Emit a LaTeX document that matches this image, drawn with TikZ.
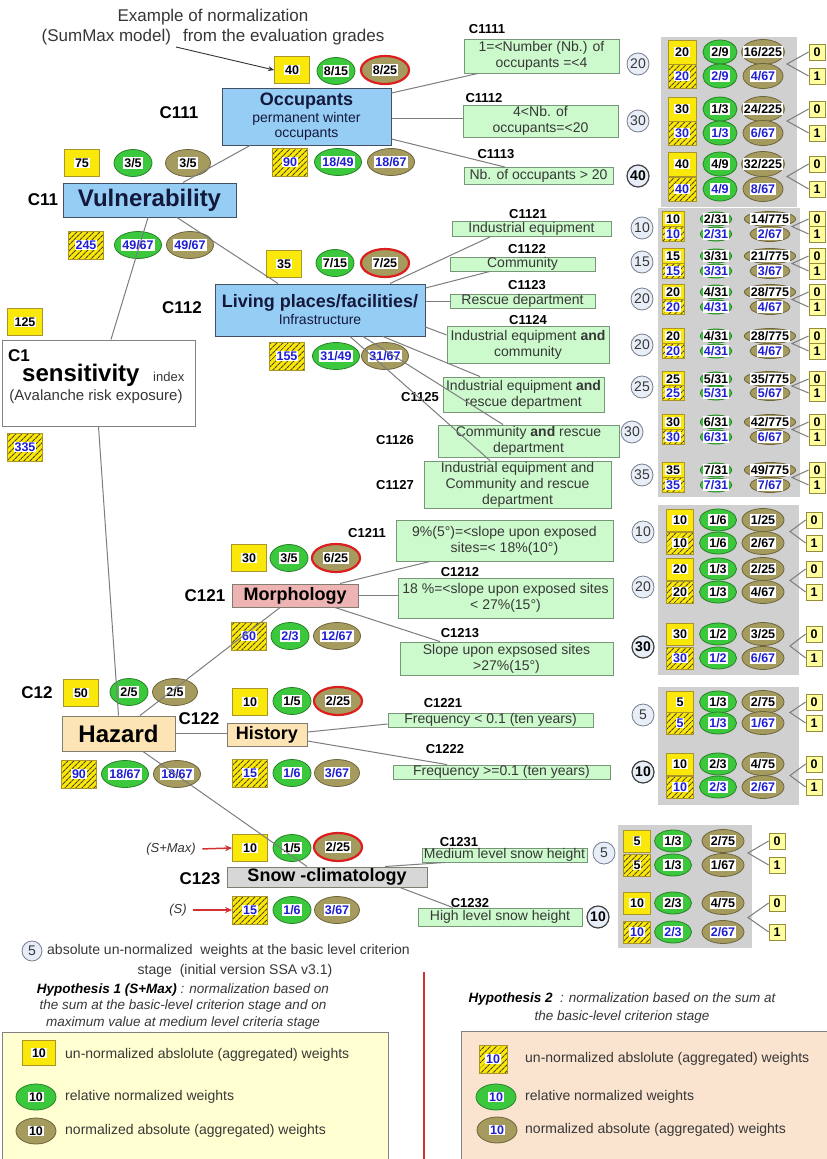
\documentclass[tikz,border=0pt]{standalone}
\usepackage{fontspec}
\setmainfont{Liberation Sans}
\usetikzlibrary{shapes.geometric,patterns.meta,arrows.meta}
\setlength{\fboxsep}{1pt}
\definecolor{Yel}{RGB}{250,232,10}
\definecolor{YelD}{RGB}{170,150,40}
\definecolor{Grn}{RGB}{60,200,60}
\definecolor{GrnD}{RGB}{40,130,40}
\definecolor{Olv}{RGB}{165,155,95}
\definecolor{OlvD}{RGB}{110,100,60}
\definecolor{RedB}{RGB}{220,30,30}
\definecolor{HatchC}{RGB}{80,70,20}
\definecolor{NumBlue}{RGB}{30,30,210}
\definecolor{BoxBlue}{RGB}{150,205,245}
\definecolor{BoxD}{RGB}{70,80,100}
\definecolor{Navy}{RGB}{20,25,60}
\definecolor{CritG}{RGB}{205,250,205}
\definecolor{CritD}{RGB}{120,150,120}
\definecolor{CircF}{RGB}{232,238,248}
\definecolor{CircD}{RGB}{120,125,140}
\definecolor{TabG}{RGB}{208,208,208}
\definecolor{PinkB}{RGB}{238,180,180}
\definecolor{HazC}{RGB}{252,228,180}
\definecolor{HazD}{RGB}{130,125,115}
\definecolor{SnowG}{RGB}{215,215,215}
\definecolor{ZYel}{RGB}{255,255,160}
\definecolor{ZYelD}{RGB}{150,140,60}
\definecolor{LegA}{RGB}{255,255,210}
\definecolor{LegB}{RGB}{250,228,208}
\definecolor{LegD}{RGB}{130,130,130}
\definecolor{TextG}{RGB}{55,55,55}
\definecolor{LineG}{RGB}{125,125,125}
\definecolor{RedL}{RGB}{210,50,50}
\newcommand\fsz[2]{\fontsize{#1}{#2}\selectfont}
\newcommand\wb[1]{\colorbox{white}{#1}}
\newcommand\bnum[1]{\textcolor{NumBlue}{#1}}
\tikzset{
 ln/.style={draw=LineG, line width=1pt},
 num/.style={font=\fsz{12.5}{14}\bfseries, inner sep=0pt, text=black},
 yb/.style={num, rectangle, fill=Yel, draw=YelD, line width=0.8pt},
 hb/.style={num, rectangle, draw=YelD, line width=0.8pt, preaction={fill=Yel}, pattern={Lines[angle=45,distance=4pt,line width=1.1pt]}, pattern color=HatchC},
 ge/.style={num, ellipse, fill=Grn, draw=GrnD, line width=0.8pt},
 oe/.style={num, ellipse, fill=Olv, draw=OlvD, line width=0.8pt},
 re/.style={oe, draw=RedB, line width=2.2pt},
 ybM/.style={yb, minimum width=35pt, minimum height=27pt},
 hbM/.style={hb, minimum width=35pt, minimum height=28pt},
 geM/.style={ge, minimum width=38pt, minimum height=27pt},
 oeM/.style={oe, minimum width=45pt, minimum height=27pt},
 reM/.style={re, minimum width=48pt, minimum height=28pt},
 ybA/.style={yb, minimum width=28pt, minimum height=24pt},
 hbA/.style={hb, minimum width=28pt, minimum height=24pt},
 geA/.style={ge, minimum width=34pt, minimum height=24pt},
 oeA/.style={oe, inner xsep=-5pt, inner ysep=-2pt, minimum width=40pt, minimum height=25pt},
 ybS/.style={yb, minimum width=22pt, minimum height=15pt},
 hbS/.style={hb, minimum width=22pt, minimum height=15pt},
 geS/.style={ge, inner xsep=-2pt, inner ysep=-3pt, minimum width=28pt, minimum height=14pt},
 oeS/.style={oe, inner xsep=-2pt, inner ysep=-3pt, minimum width=40pt, minimum height=15pt},
 ybB/.style={yb, minimum width=27pt, minimum height=22pt},
 hbB/.style={hb, minimum width=27pt, minimum height=22pt},
 geB/.style={ge, minimum width=37pt, minimum height=22pt},
 oeB/.style={oe, inner ysep=-2pt, minimum width=42pt, minimum height=23pt},
 ybL/.style={yb, minimum width=33pt, minimum height=25pt},
 hbL/.style={hb, minimum width=28pt, minimum height=28pt},
 geL/.style={ge, minimum width=40pt, minimum height=26pt},
 oeL/.style={oe, minimum width=40pt, minimum height=26pt},
 zb/.style={rectangle, fill=ZYel, draw=ZYelD, line width=0.8pt, font=\fsz{12.5}{14}\bfseries, minimum width=16pt, minimum height=16pt, inner sep=0pt},
 wc/.style={circle, fill=CircF, draw=CircD, line width=0.8pt, font=\fsz{14}{16}, text=TextG, minimum size=22pt, inner sep=0pt},
 wcb/.style={wc, draw=black!75, line width=1.2pt, font=\fsz{14}{16}\bfseries, text=black},
 bbox/.style={rectangle, fill=BoxBlue, draw=BoxD, line width=1pt, text=Navy, align=center, inner sep=0pt},
 hazbox/.style={rectangle, fill=HazC, draw=HazD, line width=1pt, text=black, inner sep=0pt},
 mbox/.style={rectangle, draw=HazD, line width=1pt, text=black, inner sep=0pt},
 crit/.style={rectangle, fill=CritG, draw=CritD, line width=0.9pt, font=\fsz{14}{16}, text=TextG, align=center, inner sep=0pt},
 lab17/.style={font=\fsz{17}{19}\bfseries, text=black, inner sep=0pt},
 lab13/.style={font=\fsz{13}{15}\bfseries, text=black, inner sep=0pt},
 lt/.style={font=\fsz{14}{16}, text=TextG, anchor=west, inner sep=0pt},
 redarr/.style={draw=RedL, line width=1.5pt, -{Stealth[length=7pt,width=6pt]}, shorten <=3pt},
}
\newcommand\tpair[9]{%
 \node[yb#2] (#1ya) at (\TXa,#3) {\wb{#5}};
 \node[ge#2] (#1ga) at (\TXb,#3) {\wb{#6}};
 \node[oe#2] (#1oa) at (\TXc,#3) {\wb{#7}};
 \node[hb#2] (#1yb) at (\TXa,#4) {\wb{\textcolor{#9}{#5}}};
 \node[ge#2] (#1gb) at (\TXb,#4) {\wb{\textcolor{#9}{#6}}};
 \node[oe#2] (#1ob) at (\TXc,#4) {\wb{\textcolor{#9}{#8}}};
 \node[zb] (#1z) at (\TXd,#3) {0};
 \node[zb] (#1u) at (\TXd,#4) {1};
 \coordinate (#1br) at (\TXe,{(#3+#4)/2});
 \draw[ln] (#1z.west) -- (#1br) -- (#1u.west);
}
\begin{document}
\begin{tikzpicture}[x=1pt,y=-1pt]
\useasboundingbox (0,0) rectangle (827,1159);
\fill[white] (0,0) rectangle (827,1159);
% gray panels
\fill[TabG] (661,37) rectangle (797,207);
\fill[TabG] (658,208) rectangle (800,497);
\fill[TabG] (658,505) rectangle (799,675);
\fill[TabG] (658,687) rectangle (799,805);
\fill[TabG] (618,825) rectangle (752,948);
% legend boxes
\node[draw=LegD, fill=LegA, line width=1pt, anchor=north west, minimum width=386pt, minimum height=140pt, inner sep=0pt] (leg1) at (2,1032) {};
\node[draw=LegD, fill=LegB, line width=1pt, anchor=north west, minimum width=380pt, minimum height=140pt, inner sep=0pt] (leg2) at (461,1031) {};
\draw[draw=RedL, line width=1.5pt] (424,972) -- (424,1159);

% title
\node[font=\fsz{17}{20}, text=TextG] (ttl1) at (213,17) {Example of normalization};
\node[font=\fsz{17}{20}, text=TextG] (ttl2) at (213,37) {(SumMax model)\hspace{12pt}from the evaluation grades};
\coordinate (arrs) at (176,47);

% Occupants
\node[ybM] (y40) at (292,70) {\wb{40}};
\node[geM] (g815) at (336,71) {\wb{8/15}};
\node[reM] (r825) at (385,70) {\wb{8/25}};
\node[bbox, minimum width=169pt, minimum height=57pt, font=\fsz{14}{15}] (occ) at (306.5,116.5) {{\fsz{18}{20}\bfseries Occupants}\\[2pt]permanent winter\\occupants};
\node[lab17] (l111) at (179,113) {C111};
\node[hbM] (h90a) at (290,162) {\wb{\bnum{90}}};
\node[geM] (g1849) at (338,162) {\wb{\bnum{18/49}}};
\node[oeM] (o1867a) at (391,162) {\wb{\bnum{18/67}}};

% Vulnerability
\node[ybM] (y75) at (82,163) {\wb{75}};
\node[geM] (g35a) at (133,163) {\wb{3/5}};
\node[oeM] (o35a) at (188,163) {\wb{3/5}};
\node[bbox, minimum width=173pt, minimum height=34pt, font=\fsz{24}{26}\bfseries] (vul) at (149.5,200) {Vulnerability};
\node[lab17] (l11) at (43,200) {C11};
\node[hbM] (h245) at (86,245) {\wb{\bnum{245}}};
\node[geM] (g4967) at (138,245) {\wb{\bnum{49/67}}};
\node[oeM] (o4967) at (190,245) {\wb{\bnum{49/67}}};

% Living places
\node[ybM] (y35) at (284,264) {\wb{35}};
\node[geM] (g715) at (335,263) {\wb{7/15}};
\node[reM] (r725) at (385,263) {\wb{7/25}};
\node[bbox, minimum width=210pt, minimum height=52pt, font=\fsz{14}{16}] (liv) at (320,310) {{\fsz{18}{20}\bfseries Living places/facilities/}\\[1pt]Infrastructure};
\node[lab17] (l112) at (182,308) {C112};
\node[hbM] (h155) at (287,356) {\wb{\bnum{155}}};
\node[geM] (g3149) at (336,356) {\wb{\bnum{31/49}}};
\node[oeM] (o3167) at (385,356) {\wb{\bnum{31/67}}};

% C1
\node[ybM] (y125) at (25,322) {\wb{125}};
\node[rectangle, draw=LegD, fill=white, line width=1pt, minimum width=193pt, minimum height=86pt, inner sep=0pt] (c1) at (98.5,383) {};
\node[lab17, anchor=west] (c1lab) at (8,356) {C1};
\node[font=\fsz{24}{26}\bfseries, text=black, anchor=west, inner sep=0pt] (sens) at (22,375) {sensitivity};
\node[font=\fsz{13}{15}, text=TextG, anchor=west, inner sep=0pt] (idx) at (153,377) {index};
\node[font=\fsz{15}{17}, text=TextG] (aval) at (96,397) {(Avalanche risk exposure)};
\node[hbM] (h335) at (25,447) {\wb{\bnum{335}}};

% Morphology
\node[ybM] (y30m) at (249,558) {\wb{30}};
\node[geM] (g35m) at (289,558) {\wb{3/5}};
\node[reM] (r625) at (336,558) {\wb{6/25}};
\node[mbox, fill=PinkB, minimum width=126pt, minimum height=23pt, font=\fsz{18}{20}\bfseries] (mor) at (295,595.5) {Morphology};
\node[lab17] (l121) at (205,596) {C121};
\node[hbM] (h60) at (249,636) {\wb{\bnum{60}}};
\node[geM] (g23m) at (290,636) {\wb{\bnum{2/3}}};
\node[oeM] (o1267) at (337,636) {\wb{\bnum{12/67}}};

% Hazard
\node[lab17] (l12) at (37,693) {C12};
\node[ybM] (y50) at (81,693) {\wb{50}};
\node[geM] (g25a) at (129,692) {\wb{2/5}};
\node[oeM] (o25a) at (175,692) {\wb{2/5}};
\node[hazbox, minimum width=113pt, minimum height=35pt, font=\fsz{24}{26}\bfseries] (haz) at (118.5,733.5) {Hazard};
\node[hbM] (h90b) at (79,774) {\wb{\bnum{90}}};
\node[geM] (g1867) at (125,774) {\wb{\bnum{18/67}}};
\node[oeM] (o1867b) at (177,774) {\wb{\bnum{18/67}}};

% History
\node[lab17] (l122) at (199,719) {C122};
\node[ybM] (y10h) at (250,702) {\wb{10}};
\node[geM] (g15h) at (292,701) {\wb{1/5}};
\node[reM] (r225h) at (338,701) {\wb{2/25}};
\node[hazbox, minimum width=80pt, minimum height=23pt, font=\fsz{18}{20}\bfseries] (his) at (267,734.5) {History};
\node[hbM] (h15h) at (250,773) {\wb{\bnum{15}}};
\node[geM] (g16h) at (292,773) {\wb{\bnum{1/6}}};
\node[oeM] (o367h) at (337,773) {\wb{\bnum{3/67}}};

% Snow
\node[font=\fsz{13}{15}\itshape, text=TextG] (smax) at (171,849) {(S+Max)};
\node[ybM] (y10s) at (250,848) {\wb{10}};
\node[geM] (g15s) at (292,848) {\wb{1/5}};
\node[reM] (r225s) at (338,847) {\wb{2/25}};
\node[lab17] (l123) at (200,879) {C123};
\node[mbox, fill=SnowG, minimum width=200pt, minimum height=20pt, font=\fsz{18}{20}\bfseries] (snow) at (327,877) {Snow -climatology};
\node[font=\fsz{13}{15}\itshape, text=TextG] (sonly) at (178,910) {(S)};
\node[hbM] (h15s) at (250,910) {\wb{\bnum{15}}};
\node[geM] (g16s) at (292,910) {\wb{\bnum{1/6}}};
\node[oeM] (o367s) at (337,910) {\wb{\bnum{3/67}}};

% criteria boxes
\node[crit, minimum width=155pt, minimum height=34pt] (c1111) at (541.5,56) {1=<Number (Nb.) of\\occupants =<4};
\node[crit, minimum width=155pt, minimum height=32pt] (c1112) at (540.5,121) {4<Nb. of\\occupants=<20};
\node[crit, minimum width=149pt, minimum height=17pt] (c1113) at (538.5,176) {Nb. of occupants > 20};
\node[crit, minimum width=159pt, minimum height=15pt] (c1121) at (531.5,229) {Industrial equipment};
\node[crit, minimum width=145pt, minimum height=14pt] (c1122) at (522.5,264) {Community};
\node[crit, minimum width=145pt, minimum height=14pt] (c1123) at (522.5,301) {Rescue department};
\node[crit, minimum width=162pt, minimum height=37pt] (c1124) at (528,344.5) {Industrial equipment \textbf{and}\\community};
\node[crit, minimum width=161pt, minimum height=35pt] (c1125) at (523.5,394.5) {Industrial equipment \textbf{and}\\rescue department};
\node[crit, minimum width=181pt, minimum height=32pt] (c1126) at (528.5,441) {Community \textbf{and} rescue\\department};
\node[crit, minimum width=187pt, minimum height=47pt] (c1127) at (517.5,484.5) {Industrial equipment and\\Community and rescue\\department};
\node[crit, minimum width=217pt, minimum height=41pt] (c1211) at (504.5,540.5) {9\%(5°)=<slope upon exposed\\sites=< 18\%(10°)};
\node[crit, minimum width=215pt, minimum height=40pt] (c1212) at (505.5,598) {18 \%=<slope upon exposed sites\\< 27\%(15°)};
\node[crit, minimum width=213pt, minimum height=33pt] (c1213) at (506.5,658.5) {Slope upon expsosed sites\\>27\%(15°)};
\node[crit, minimum width=205pt, minimum height=14pt] (c1221) at (490.5,720) {Frequency < 0.1 (ten years)};
\node[crit, minimum width=217pt, minimum height=14pt] (c1222) at (501.5,772) {Frequency >=0.1 (ten years)};
\node[crit, minimum width=165pt, minimum height=14pt] (c1231) at (504.5,855) {Medium level snow height};
\node[crit, minimum width=164pt, minimum height=18pt] (c1232) at (500,917) {High level snow height};

% criteria labels
\node[lab13] (k1111) at (487,29) {C1111};
\node[lab13] (k1112) at (484,98) {C1112};
\node[lab13] (k1113) at (496,154) {C1113};
\node[lab13] (k1121) at (528,214) {C1121};
\node[lab13] (k1122) at (527,249) {C1122};
\node[lab13] (k1123) at (527,285) {C1123};
\node[lab13] (k1124) at (528,320) {C1124};
\node[lab13] (k1125) at (420,397) {C1125};
\node[lab13] (k1126) at (395,440) {C1126};
\node[lab13] (k1127) at (395,485) {C1127};
\node[lab13] (k1211) at (367,533) {C1211};
\node[lab13] (k1212) at (460,572) {C1212};
\node[lab13] (k1213) at (460,633) {C1213};
\node[lab13] (k1221) at (443,703) {C1221};
\node[lab13] (k1222) at (445,749) {C1222};
\node[lab13] (k1231) at (459,842) {C1231};
\node[lab13] (k1232) at (470,903) {C1232};

% weight circles
\node[wc] (w1111) at (638,64) {20};
\node[wc] (w1112) at (638,121) {30};
\node[wcb] (w1113) at (638,176) {40};
\node[wc] (w1121) at (642,228) {10};
\node[wc] (w1122) at (642,262) {15};
\node[wc] (w1123) at (642,299) {20};
\node[wc] (w1124) at (642,345) {20};
\node[wc] (w1125) at (642,387) {25};
\node[wc] (w1126) at (632,432) {30};
\node[wc] (w1127) at (642,475) {35};
\node[wc] (w1211) at (643,532) {10};
\node[wc] (w1212) at (643,587) {20};
\node[wcb] (w1213) at (643,647) {30};
\node[wc] (w1221) at (643,715) {5};
\node[wcb] (w1222) at (643,772) {10};
\node[wc] (w1231) at (604,853) {5};
\node[wcb] (w1232) at (598,917) {10};

% tables
\def\TXa{682}\def\TXb{720}\def\TXc{763}\def\TXd{817}\def\TXe{787}
\tpair{ta}{A}{52}{76}{20}{2/9}{16/225}{4/67}{NumBlue}
\tpair{tb}{A}{109}{133}{30}{1/3}{24/225}{6/67}{NumBlue}
\tpair{tc}{A}{164}{189}{40}{4/9}{32/225}{8/67}{NumBlue}
\def\TXa{673}\def\TXb{716}\def\TXc{770}\def\TXd{817}\def\TXe{792}
\tpair{td}{S}{219}{234}{10}{2/31}{14/775}{2/67}{NumBlue}
\tpair{te}{S}{256}{271}{15}{3/31}{21/775}{3/67}{NumBlue}
\tpair{tf}{S}{292}{307}{20}{4/31}{28/775}{4/67}{NumBlue}
\tpair{tg}{S}{336}{351}{20}{4/31}{28/775}{4/67}{NumBlue}
\tpair{th}{S}{379}{393}{25}{5/31}{35/775}{5/67}{NumBlue}
\tpair{ti}{S}{422}{437}{30}{6/31}{42/775}{6/67}{NumBlue}
\tpair{tj}{S}{470}{485}{35}{7/31}{49/775}{7/67}{NumBlue}
\def\TXa{680}\def\TXb{718}\def\TXc{763}\def\TXd{814}\def\TXe{790}
\tpair{tk}{B}{520}{543}{10}{1/6}{1/25}{2/67}{black}
\tpair{tl}{B}{569}{592}{20}{1/3}{2/25}{4/67}{black}
\tpair{tm}{B}{634}{658}{30}{1/2}{3/25}{6/67}{NumBlue}
\tpair{tn}{B}{702}{723}{5}{1/3}{2/75}{1/67}{NumBlue}
\tpair{to}{B}{764}{787}{10}{2/3}{4/75}{2/67}{NumBlue}
\def\TXa{637}\def\TXb{673}\def\TXc{723}\def\TXd{777}\def\TXe{748}
\tpair{tp}{B}{841}{865}{5}{1/3}{2/75}{1/67}{black}
\tpair{tq}{B}{903}{932}{10}{2/3}{4/75}{2/67}{NumBlue}

% connectors
\draw[draw=black!80, line width=0.9pt, -{Stealth[length=6pt,width=5pt]}] (arrs) -- (y40.west);
\draw[ln] (c1.north -| 111,0) -- (vul.south -| 148,0);
\draw[ln] (c1.south) -- (haz.north);
\draw[ln] (vul.north -| 183,0) -- (occ.south -| 250,0);
\draw[ln] (vul.south -| 177,0) -- (liv.north -| 278,0);
\draw[ln] (occ.east |- 0,93) -- (c1111.south -| 478,0);
\draw[ln] (occ.east |- 0,118) -- (c1112.west |- 0,118);
\draw[ln] (occ.east |- 0,139) -- (c1113.north -| 505,0);
\draw[ln] (liv.north -| 390,0) -- (c1121.south -| 490,0);
\draw[ln] (liv.east |- 0,288) -- (c1122.south -| 490,0);
\draw[ln] (liv.east |- c1123.west) -- (c1123.west);
\draw[ln] (liv.east |- 0,327) -- (c1124.west |- 0,335);
\draw[ln] (liv.south -| 383,0) -- (c1125.north -| 480,0);
\draw[ln] (liv.south -| 363,0) -- (c1126.north -| 503,0);
\draw[ln] (liv.south -| 350,0) -- (c1127.north -| 490,0);
\draw[ln] (haz.north -| 140,0) -- (mor.south -| 280,0);
\draw[ln] (mor.north -| 340,0) -- (c1211.south -| 430,0);
\draw[ln] (mor.east) -- (c1212.west |- mor.east);
\draw[ln] (mor.south -| 335,0) -- (c1213.north -| 440,0);
\draw[ln] (haz.east) -- (his.west |- haz.east);
\draw[ln] (his.east |- 0,732) -- (c1221.west |- 0,724);
\draw[ln] (his.east |- 0,741) -- (c1222.north -| 447,0);
\draw[ln] (haz.south -| 143,0) -- (snow.north -| 307,0);
\draw[ln] (snow.north -| 385,0) -- (c1231.south -| 445,0);
\draw[ln] (snow.south -| 400,0) -- (c1232.north -| 453,0);
\draw[redarr] (smax.east) -- (y10s.west);
\draw[redarr] (sonly.east) -- (h15s.west);

% legend
\node[wc, minimum size=20pt] (lw5) at (32,951) {5};
\node[lt] (lt1) at (47,951) {absolute un-normalized\ \ weights at the basic level criterion};
\node[font=\fsz{14}{16}, text=TextG] (lt2) at (235,971) {stage\ \ (initial version SSA v3.1)};
\node[font=\fsz{13.5}{16.5}\itshape, text=TextG, align=center] (hyp1) at (183,1006) {\textbf{\textcolor{black}{Hypothesis 1 (S+Max)}} : normalization based on\\the sum at the basic-level criterion stage and on\\maximum value at medium level criteria stage};
\node[font=\fsz{13.5}{18}\itshape, text=TextG, align=center] (hyp2) at (622,1008) {\textbf{\textcolor{black}{Hypothesis 2}}\ \ : normalization based on the sum at\\the basic-level criterion stage};
\node[ybL] (ly1) at (39,1053) {\wb{10}};
\node[lt] (lyt1) at (65,1055) {un-normalized abslolute (aggregated) weights};
\node[geL] (lg1) at (36,1097) {\wb{10}};
\node[lt] (lgt1) at (65,1097) {relative normalized weights};
\node[oeL] (lo1) at (36,1131) {\wb{10}};
\node[lt] (lot1) at (65,1131) {normalized absolute (aggregated) weights};
\node[hbL] (ly2) at (493,1059) {\wb{\bnum{10}}};
\node[lt] (lyt2) at (525,1059) {un-normalized abslolute (aggregated) weights};
\node[geL] (lg2) at (496,1097) {\wb{\bnum{10}}};
\node[lt] (lgt2) at (525,1097) {relative normalized weights};
\node[oeL] (lo2) at (497,1130) {\wb{\bnum{10}}};
\node[lt] (lot2) at (525,1130) {normalized absolute (aggregated) weights};
\end{tikzpicture}
\end{document}
